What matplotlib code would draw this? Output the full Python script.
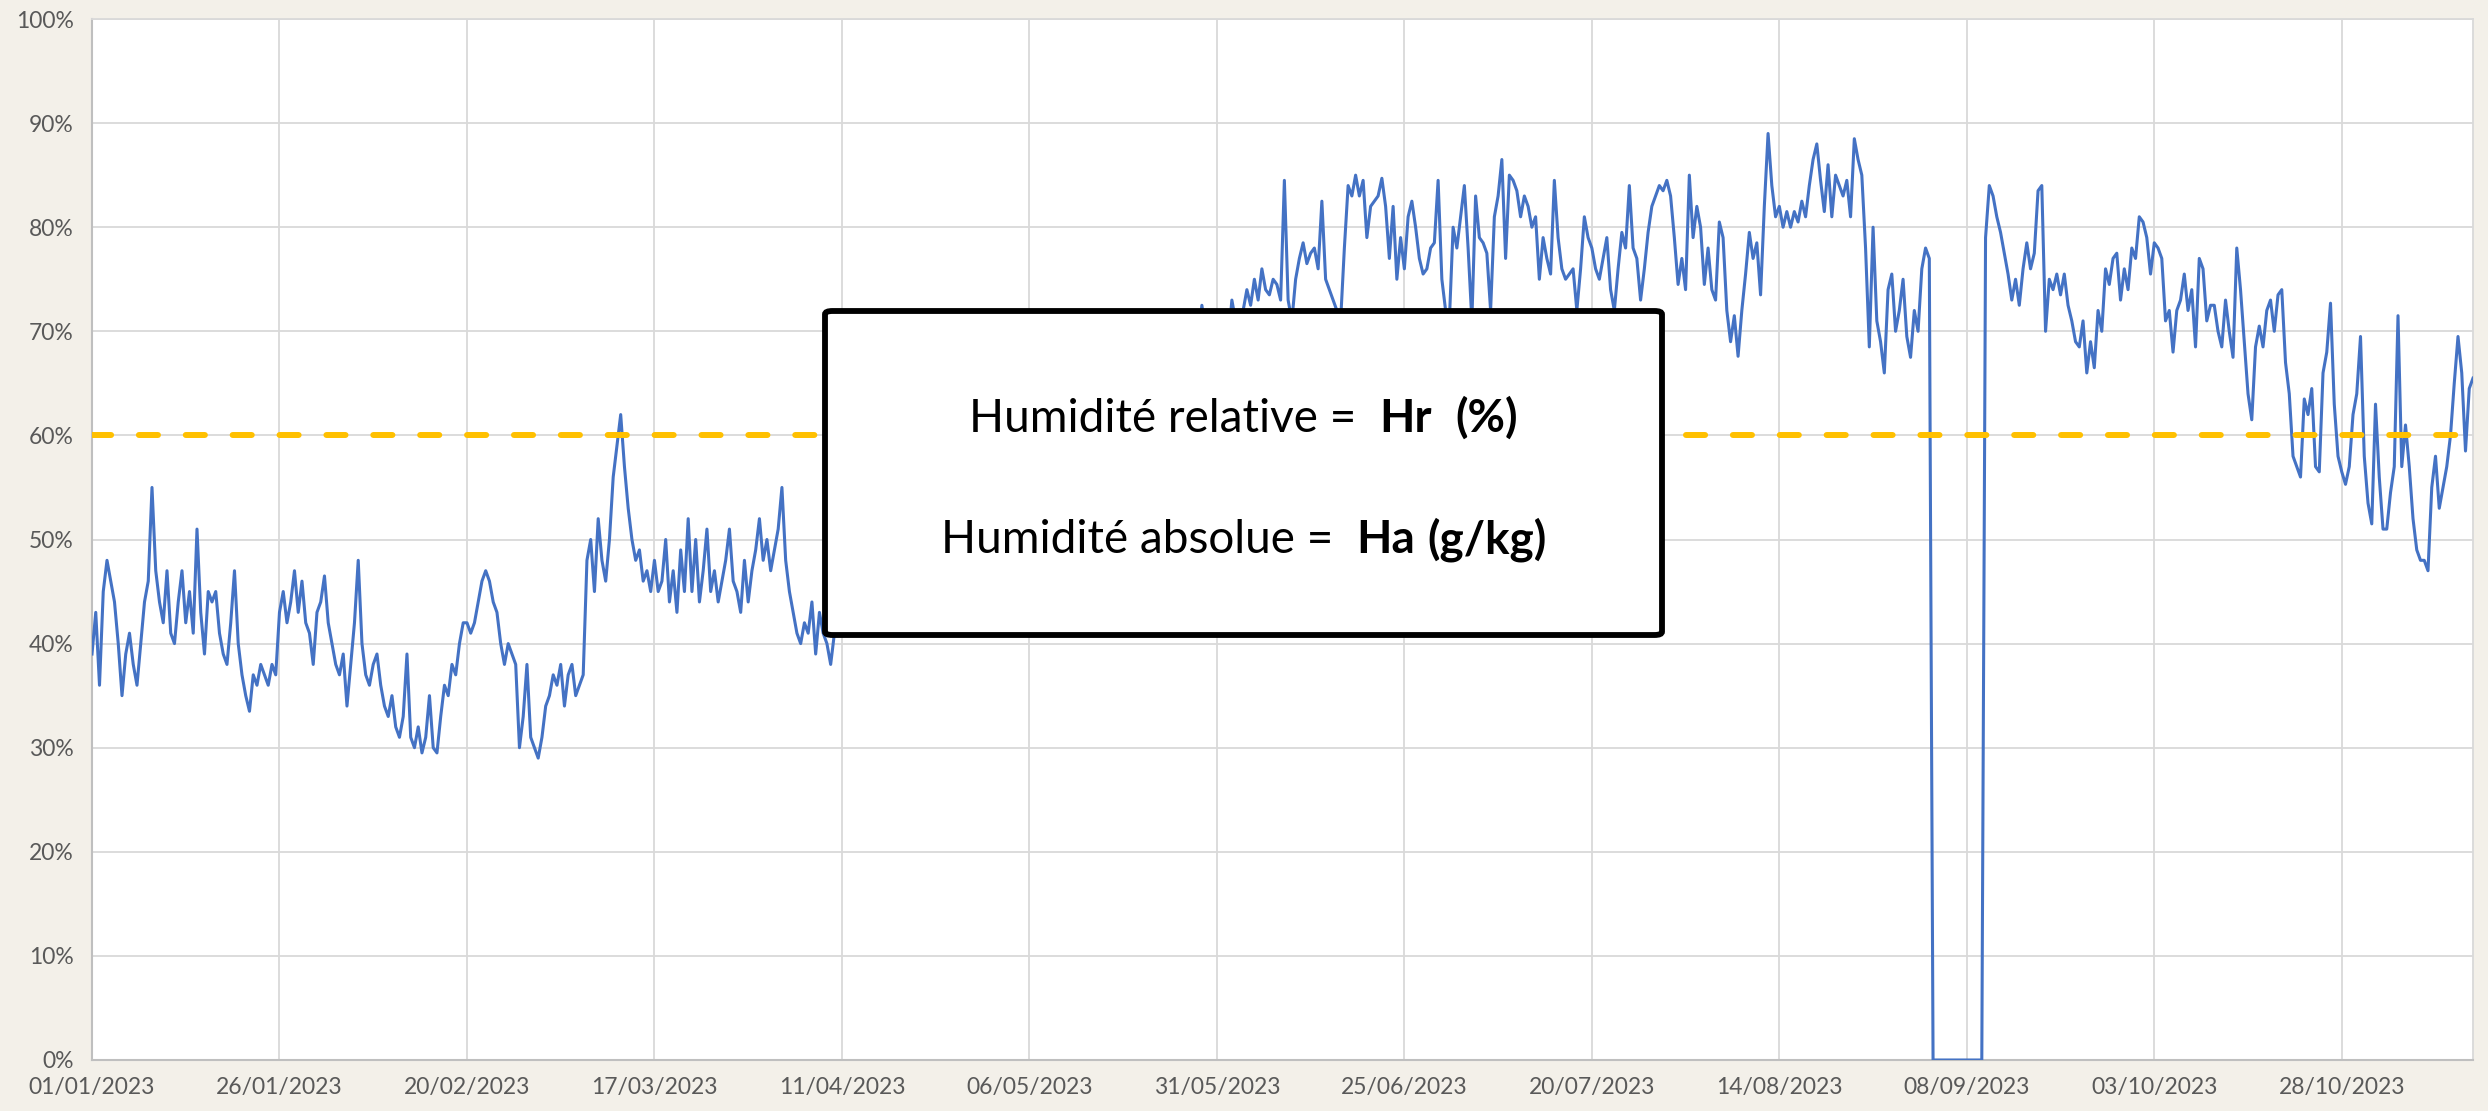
import matplotlib
matplotlib.use("Agg")
import matplotlib.pyplot as plt
from matplotlib.patches import FancyBboxPatch
from matplotlib.ticker import FuncFormatter
import pandas as pd

plt.rcParams['font.family'] = ['Lato', 'DejaVu Sans']

# ---------------- data ----------------
start_date = "2023-01-01"
step = "12h"

# relative humidity (%), two readings per day (00h, 12h)
hr_values = [
    # days 0-9
    39, 43, 36, 45, 48, 46, 44, 40, 35, 39, 41, 38, 36, 40, 44, 46, 55, 47, 44, 42,
    # days 10-19
    47, 41, 40, 44, 47, 42, 45, 41, 51, 43, 39, 45, 44, 45, 41, 39, 38, 42, 47, 40,
    # days 20-29
    37, 35, 33.5, 37, 36, 38, 37, 36, 38, 37, 43, 45, 42, 44, 47, 43, 46, 42, 41, 38,
    # days 30-39
    43, 44, 46.5, 42, 40, 38, 37, 39, 34, 38, 42, 48, 40, 37, 36, 38, 39, 36, 34, 33,
    # days 40-49
    35, 32, 31, 33, 39, 31, 30, 32, 29.5, 31, 35, 30, 29.5, 33, 36, 35, 38, 37, 40, 42,
    # days 50-59
    42, 41, 42, 44, 46, 47, 46, 44, 43, 40, 38, 40, 39, 38, 30, 33, 38, 31, 30, 29,
    # days 60-69
    31, 34, 35, 37, 36, 38, 34, 37, 38, 35, 36, 37, 48, 50, 45, 52, 48, 46, 50, 56,
    # days 70-79
    59, 62, 57, 53, 50, 48, 49, 46, 47, 45, 48, 45, 46, 50, 44, 47, 43, 49, 45, 52,
    # days 80-89
    45, 50, 44, 47, 51, 45, 47, 44, 46, 48, 51, 46, 45, 43, 48, 44, 47, 49, 52, 48,
    # days 90-99
    50, 47, 49, 51, 55, 48, 45, 43, 41, 40, 42, 41, 44, 39, 43, 41, 40, 38, 41, 42,
    # days 100-109
    42, 44, 43, 41, 45, 47, 46, 44, 48, 45, 50, 47, 49, 52, 51, 48, 53, 50, 52, 55,
    # days 110-119
    54, 51, 56, 53, 55, 58, 57, 54, 59, 56, 58, 61, 60, 57, 62, 59, 61, 64, 63, 60,
    # days 120-129
    62, 65, 64, 61, 66, 63, 65, 62, 63, 66, 67, 64, 65, 68, 66, 63, 64, 67, 68, 65,
    # days 130-139
    67, 70, 66, 64, 69, 67, 68, 65, 66, 69, 70, 67, 68, 66, 65, 69, 69, 67, 67, 70,
    # days 140-149
    70, 68, 66, 69, 68, 71, 70, 67, 69, 71, 67, 70, 70, 68, 71, 69, 72.5, 70, 69, 71,
    # days 150-159
    71, 70, 71.5, 69, 73, 71, 70, 72, 74, 72.5, 75, 73, 76, 74, 73.5, 75, 74.5, 73, 84.5, 73,
    # days 160-169
    71, 75, 77, 78.5, 76.5, 77.5, 78, 76, 82.5, 75, 74, 73, 72, 71, 78, 84, 83, 85, 83, 84.5,
    # days 170-179
    79, 82, 82.5, 83, 84.7, 82, 77, 82, 75, 79, 76, 81, 82.5, 80, 77, 75.5, 76, 78, 78.5, 84.5,
    # days 180-189
    75, 72, 71, 80, 78, 81, 84, 78, 71, 83, 79, 78.5, 77.5, 72, 81, 83, 86.5, 77, 85, 84.5,
    # days 190-199
    83.5, 81, 83, 82, 80, 81, 75, 79, 77, 75.5, 84.5, 79, 76, 75, 75.5, 76, 72, 76, 81, 79,
    # days 200-209
    78, 76, 75, 77, 79, 74, 72, 76, 79.5, 78, 84, 78, 77, 73, 76, 79.5, 82, 83, 84, 83.5,
    # days 210-219
    84.5, 83, 79, 74.5, 77, 74, 85, 79, 82, 80, 74.5, 78, 74, 73, 80.5, 79, 72, 69, 71.5, 67.6,
    # days 220-229
    72, 75.5, 79.5, 77, 78.5, 73.5, 82, 89, 84, 81, 82, 80, 81.5, 80, 81.5, 80.5, 82.5, 81, 84, 86.5,
    # days 230-239
    88, 84.5, 81.5, 86, 81, 85, 84, 83, 84.5, 81, 88.5, 86.5, 85, 78, 68.5, 80, 71, 69, 66, 74,
    # days 240-249
    75.5, 70, 72, 75, 69.5, 67.5, 72, 70, 76, 78, 77, 0, 0, 0, 0, 0, 0, 0, 0, 0,
    # days 250-259
    0, 0, 0, 0, 0, 79, 84, 83, 81, 79.5, 77.5, 75.5, 73, 75, 72.5, 76, 78.5, 76, 77.5, 83.5,
    # days 260-269
    84, 70, 75, 74, 75.5, 73.5, 75.5, 72.5, 71, 69, 68.5, 71, 66, 69, 66.5, 72, 70, 76, 74.5, 77,
    # days 270-279
    77.5, 73, 76, 74, 78, 77, 81, 80.5, 79, 75.5, 78.5, 78, 77, 71, 72, 68, 72, 73, 75.5, 72,
    # days 280-289
    74, 68.5, 77, 76, 71, 72.5, 72.5, 70, 68.5, 73, 70, 67.5, 78, 74, 69, 64, 61.5, 68.5, 70.5, 68.5,
    # days 290-299
    72, 73, 70, 73.5, 74, 67, 64, 58, 57, 56, 63.5, 62, 64.5, 57, 56.5, 66, 68, 72.7, 63, 58,
    # days 300-309
    56.5, 55.3, 57, 62, 64, 69.5, 58, 53.5, 51.5, 63, 56, 51, 51, 54.5, 57, 71.5, 57, 61, 57, 52,
    # days 310-317
    49, 48, 48, 47, 55, 58, 53, 55, 57, 60, 65, 69.5, 66, 58.5, 64.5, 65.5,
]

threshold = 60

x_tick_labels = ["01/01/2023", "26/01/2023", "20/02/2023", "17/03/2023", "11/04/2023",
                 "06/05/2023", "31/05/2023", "25/06/2023", "20/07/2023", "14/08/2023",
                 "08/09/2023", "03/10/2023", "28/10/2023"]
y_ticks = [0, 10, 20, 30, 40, 50, 60, 70, 80, 90, 100]

box_lines = [
    [("Humidité relative =", "normal", 2), ("Hr", "bold", 2), ("(%)", "bold", 0)],
    [("Humidité absolue =", "normal", 2), ("Ha", "bold", 1), ("(g/kg)", "bold", 0)],
]

# ---------------- figure ----------------
W, H = 2488, 1111
fig = plt.figure(figsize=(W / 100, H / 100), dpi=100, facecolor="#f3f0e9")
ax = fig.add_axes([92 / W, 1 - 1060 / H, (2473 - 92) / W, (1060 - 19) / H])
ax.set_facecolor("white")

times = pd.date_range(start_date, periods=len(hr_values), freq=step)
ax.plot(times, hr_values, color="#4472c4", lw=2.2, zorder=3)
ax.axhline(threshold, color="#ffc000", lw=4.3, dashes=(3.2, 4.65),
           dash_capstyle="round", zorder=4)

ax.set_xlim(times[0], times[-1])
ax.set_ylim(0, 100)

tick_dates = pd.to_datetime(x_tick_labels, format="%d/%m/%Y")
ax.set_xticks(tick_dates)
ax.set_xticklabels(x_tick_labels)
ax.set_yticks(y_ticks)
ax.yaxis.set_major_formatter(FuncFormatter(lambda v, p: f"{int(v)}%"))

ax.grid(True, color="#d9d9d9", lw=1.3)
ax.set_axisbelow(True)
ax.tick_params(axis="both", length=0, labelcolor="#595959", labelsize=16.5)
ax.tick_params(axis="y", pad=13)
ax.tick_params(axis="x", pad=12)

for side in ["left", "bottom"]:
    ax.spines[side].set_color("#bfbfbf")
    ax.spines[side].set_linewidth(1.5)
for side in ["top", "right"]:
    ax.spines[side].set_color("#d9d9d9")
    ax.spines[side].set_linewidth(1.3)

# ---------------- annotation box ----------------
bx0, bx1, by0, by1 = 825, 1662, 311, 635
box = FancyBboxPatch((bx0 / W, 1 - by1 / H), (bx1 - bx0) / W, (by1 - by0) / H,
                     boxstyle="round,pad=0,rounding_size=0.003",
                     transform=fig.transFigure, facecolor="white",
                     edgecolor="black", lw=4.2, zorder=10)
fig.add_artist(box)

renderer = fig.canvas.get_renderer()
text_size = 33


def text_width(s, weight):
    t = fig.text(0, 0, s, fontsize=text_size, fontweight=weight)
    w = t.get_window_extent(renderer).width
    t.remove()
    return w


space_w = text_width("x x", "normal") - text_width("xx", "normal")

baselines = [432, 553]
xc = (bx0 + bx1) / 2
for pieces, yb in zip(box_lines, baselines):
    texts, widths = [], []
    for s, weight, gap in pieces:
        t = fig.text(0, 1 - yb / H, s, fontsize=text_size, fontweight=weight,
                     va="baseline", ha="left", color="black", zorder=11)
        texts.append(t)
        widths.append(t.get_window_extent(renderer).width + gap * space_w)
    x = xc - sum(widths) / 2
    for t, w in zip(texts, widths):
        t.set_x(x / W)
        x += w

fig.savefig("out.png", dpi=100, facecolor=fig.get_facecolor())
